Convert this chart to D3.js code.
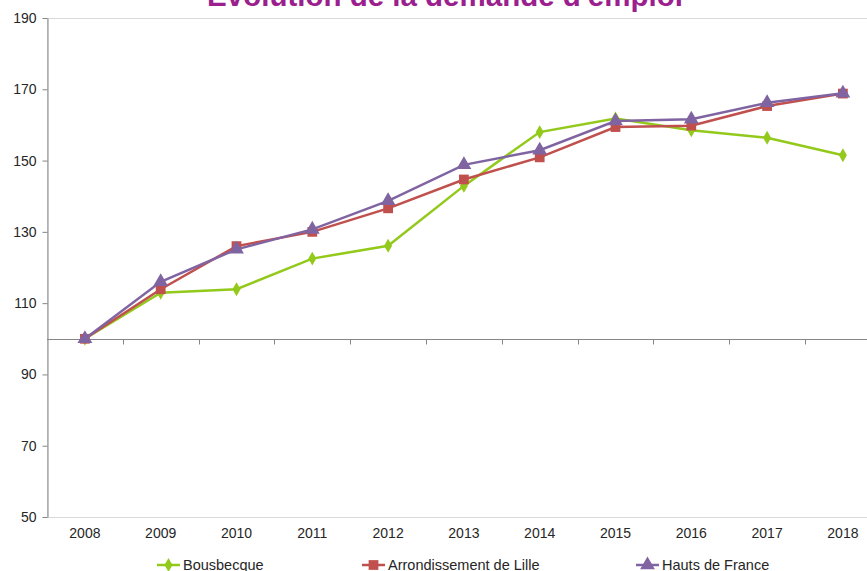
<!DOCTYPE html>
<html>
<head>
<meta charset="utf-8">
<script src="https://cdn.jsdelivr.net/npm/d3@7"></script>
<style>
  body { margin: 0; background: #fff; overflow: hidden; }
  text { font-family: "Liberation Sans", Arial, sans-serif; }
</style>
</head>
<body>
<script>
// chart data
const years = ['2008', '2009', '2010', '2011', '2012', '2013', '2014', '2015', '2016', '2017', '2018']
const bousbecque = [100, 112.9, 113.9, 122.5, 126.1, 142.9, 158.0, 161.8, 158.5, 156.4, 151.5]
const lille = [100, 113.9, 126.0, 130.0, 136.6, 144.7, 150.9, 159.4, 159.8, 165.3, 168.8]
const hautsDeFrance = [100, 116.0, 125.1, 130.7, 138.7, 148.8, 152.9, 161.1, 161.6, 166.2, 168.9]
const yTicks = [50, 70, 90, 110, 130, 150, 170, 190]

const series = [
  { name: 'Bousbecque', values: bousbecque, color: '#92C91A', shape: d3.symbolDiamond },
  { name: 'Arrondissement de Lille', values: lille, color: '#C0504D', shape: d3.symbolSquare },
  { name: 'Hauts de France', values: hautsDeFrance, color: '#8064A2', shape: d3.symbolTriangle }
]

const width = 867
const height = 571
const plotLeft = 47
const plotTop = 18
const plotBottom = 517
const step = 75.8

const svg = d3.select('body').append('svg')
  .attr('width', width)
  .attr('height', height)

const x = d3.scaleBand()
  .domain(years)
  .range([plotLeft, plotLeft + step * years.length])

const y = d3.scaleLinear()
  .domain([50, 190])
  .range([plotBottom, plotTop])

const cx = d => x(d) + x.bandwidth() / 2
const markSize = s => s.shape === d3.symbolDiamond ? 55 : 95

// plot area border (light)
svg.append('rect')
  .attr('x', plotLeft + 0.5)
  .attr('y', plotTop + 0.5)
  .attr('width', step * years.length)
  .attr('height', plotBottom - plotTop)
  .attr('fill', 'none')
  .attr('stroke', '#d9d9d9')

// y axis
const yAxis = svg.append('g')
  .attr('transform', `translate(${plotLeft + 0.5},0)`)
  .call(d3.axisLeft(y).tickValues(yTicks).tickSize(5).tickPadding(6).tickSizeOuter(0))
yAxis.select('.domain').attr('stroke', '#868686')
yAxis.selectAll('.tick line').attr('stroke', '#868686')
yAxis.selectAll('.tick text').attr('font-size', 14).attr('fill', '#262626')
  .attr('font-family', '"Liberation Sans", Arial, sans-serif')

// x axis line crossing at 100, ticks between categories
const y100 = Math.round(y(100)) + 0.5
svg.append('line')
  .attr('x1', plotLeft).attr('x2', plotLeft + step * years.length)
  .attr('y1', y100).attr('y2', y100)
  .attr('stroke', '#868686')
svg.append('g')
  .selectAll('line')
  .data(years.slice(1))
  .join('line')
  .attr('x1', d => Math.round(x(d)) + 0.5)
  .attr('x2', d => Math.round(x(d)) + 0.5)
  .attr('y1', y100)
  .attr('y2', y100 + 5)
  .attr('stroke', '#868686')

// x labels under the plot area
const xAxis = svg.append('g')
  .attr('transform', `translate(0,${plotBottom})`)
  .call(d3.axisBottom(x).tickSize(0).tickPadding(11))
xAxis.select('.domain').remove()
xAxis.selectAll('.tick text').attr('font-size', 14).attr('fill', '#262626')
  .attr('font-family', '"Liberation Sans", Arial, sans-serif')

// lines and markers
const line = d3.line()
  .x((d, i) => cx(years[i]))
  .y(d => y(d))

series.forEach(s => {
  const g = svg.append('g')
  g.append('path')
    .attr('d', line(s.values))
    .attr('fill', 'none')
    .attr('stroke', s.color)
    .attr('stroke-width', 2.5)
  g.selectAll('path.mark')
    .data(s.values)
    .join('path')
    .attr('class', 'mark')
    .attr('transform', (d, i) => `translate(${cx(years[i])},${y(d)})`)
    .attr('d', d3.symbol().type(s.shape).size(markSize(s)))
    .attr('fill', s.color)
})

// title (cut off at the top like the original)
svg.append('text')
  .attr('x', 445)
  .attr('y', 6)
  .attr('text-anchor', 'middle')
  .attr('font-size', 29.5)
  .attr('font-weight', 'bold')
  .attr('fill', '#9B1F8E')
  .text('Évolution de la demande d\'emploi')

// legend
const legendX = [157, 362, 636]
const legendY = 565
series.forEach((s, i) => {
  const g = svg.append('g').attr('transform', `translate(${legendX[i]},${legendY})`)
  g.append('line')
    .attr('x1', 0).attr('x2', 23)
    .attr('stroke', s.color)
    .attr('stroke-width', 2.5)
  g.append('path')
    .attr('transform', 'translate(11.5,0)')
    .attr('d', d3.symbol().type(s.shape).size(markSize(s)))
    .attr('fill', s.color)
  g.append('text')
    .attr('x', 26)
    .attr('dy', '0.35em')
    .attr('font-size', 14.5)
    .attr('fill', '#262626')
    .text(s.name)
})
</script>
</body>
</html>
